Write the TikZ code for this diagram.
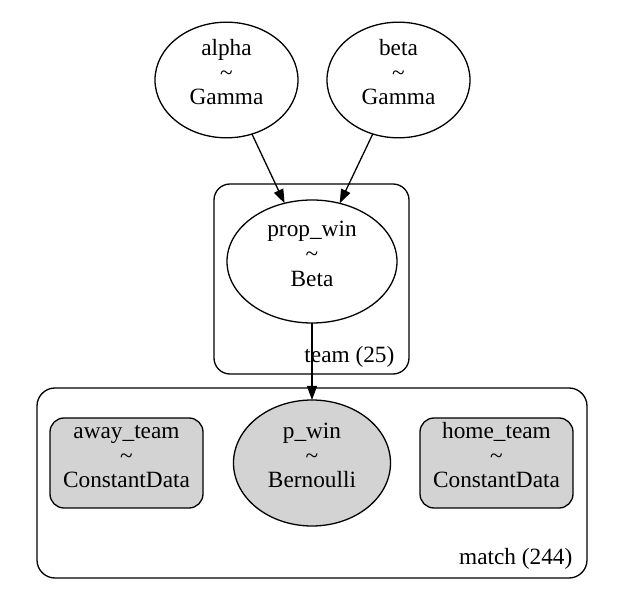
\documentclass[tikz,border=0pt]{standalone}
\usepackage{fontspec}
\setmainfont{Liberation Serif}
\usetikzlibrary{shapes.geometric,arrows.meta}
\newcommand{\vlbl}[2]{\rule{0pt}{16pt}#1\\\textasciitilde\\\rule[-16pt]{0pt}{16pt}#2}
\definecolor{obsgray}{RGB}{211,211,211}
\begin{document}
\begin{tikzpicture}[x=1pt,y=-1pt,
  font=\fontsize{23.3}{24.8}\selectfont,
  line width=1.3pt,
  >={Triangle[length=14pt,width=10pt]},
  rv/.style={ellipse, draw, inner sep=0pt, outer sep=0pt, align=center},
  obs/.style={fill=obsgray},
  datab/.style={rectangle, rounded corners=14pt, draw, fill=obsgray, inner sep=0pt, outer sep=0pt,
    minimum width=153pt, minimum height=90pt, align=center},
  plate/.style={rectangle, draw, inner sep=0pt, outer sep=0pt},
  platelbl/.style={anchor=base east, inner sep=0pt}]
\useasboundingbox (0,0) rectangle (625,604);
% plates
\node[plate, rounded corners=16pt, minimum width=195pt, minimum height=190pt] (team) at (311.5,279) {};
\node[plate, rounded corners=18pt, minimum width=550pt, minimum height=190pt] (match) at (312,483) {};
\node[platelbl] (teamlbl) at (395,363) {team (25)};
\node[platelbl] (matchlbl) at (573,565) {match (244)};
% nodes
\node[rv, minimum width=143pt, minimum height=115pt] (alpha) at (226.5,80) {\vlbl{alpha}{Gamma}};
\node[rv, minimum width=143pt, minimum height=115pt] (beta) at (398.5,80) {\vlbl{beta}{Gamma}};
\node[rv, minimum width=170pt, minimum height=123pt] (propwin) at (312,261.5) {\vlbl{prop\_win}{Beta}};
\node[rv, obs, minimum width=157pt, minimum height=126pt] (pwin) at (312,463) {\vlbl{p\_win}{Bernoulli}};
\node[datab] (away) at (126.5,463) {\vlbl{away\_team}{ConstantData}};
\node[datab] (home) at (496.5,463) {\vlbl{home\_team}{ConstantData}};
% edges
\draw[->] (alpha) -- (propwin);
\draw[->] (beta) -- (propwin);
\draw[->] (propwin) -- (pwin);
\end{tikzpicture}
\end{document}
